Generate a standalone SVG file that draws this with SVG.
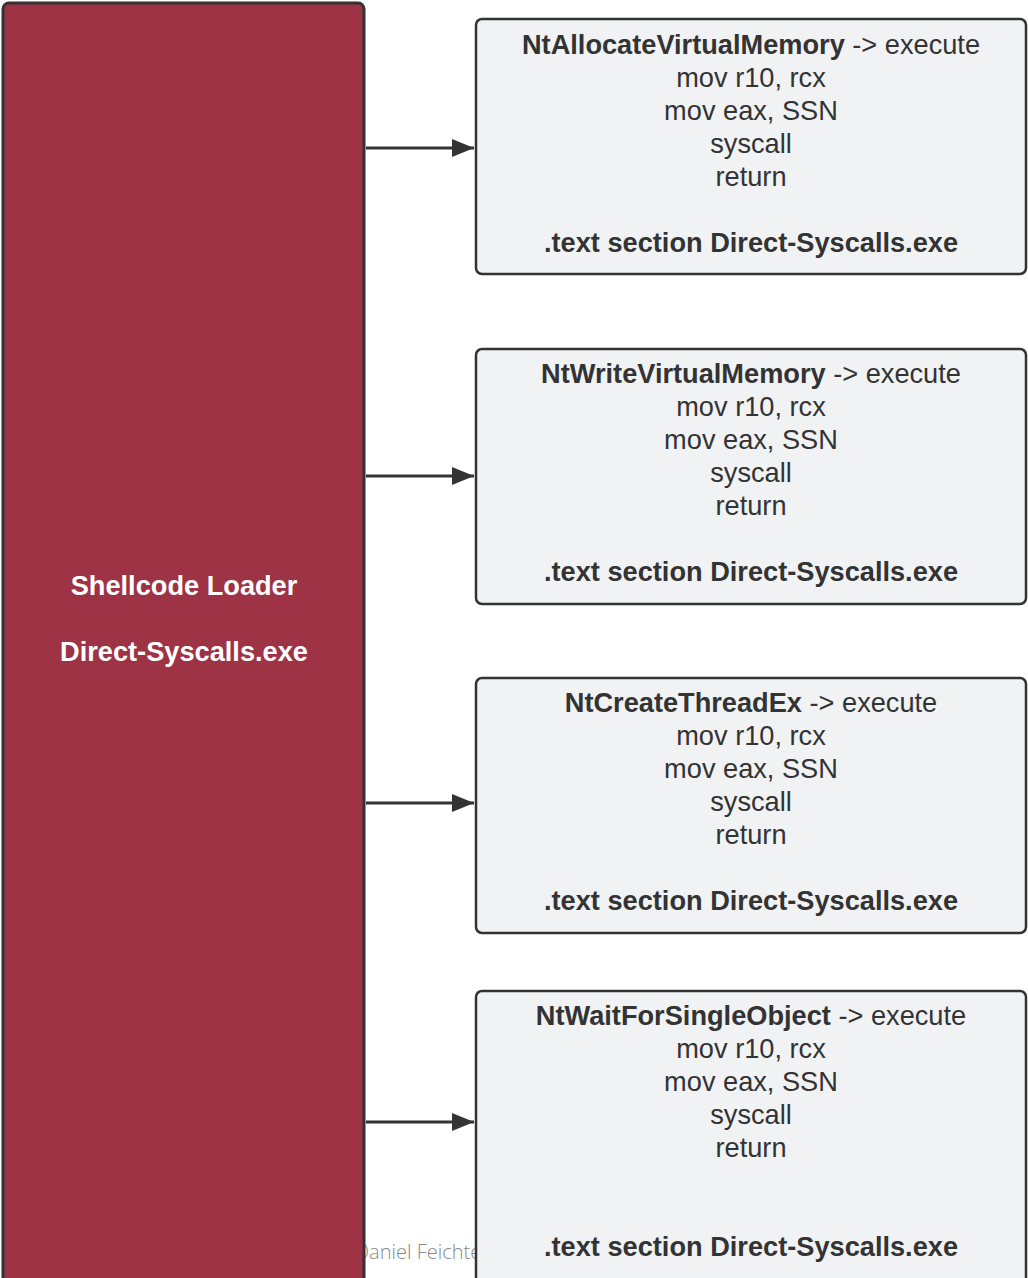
<svg xmlns="http://www.w3.org/2000/svg" width="1028" height="1278" viewBox="0 0 1028 1278">
  <defs>
    <marker id="arrow" viewBox="0 0 22 18" refX="22" refY="9" markerWidth="22" markerHeight="18" markerUnits="userSpaceOnUse" orient="auto">
      <path d="M0,0 L22,9 L0,18 Z" fill="#333333"/>
    </marker>
    <style>
      .loader { fill: #9e3346; stroke: #333333; stroke-width: 3; }
      .stub { fill: #f1f2f4; stroke: #333333; stroke-width: 2.5; }
      .t { font-family: "Liberation Sans", Arial, sans-serif; font-size: 27.2px; fill: #333333; text-anchor: middle; }
      .w { font-family: "Liberation Sans", Arial, sans-serif; font-size: 27.2px; font-weight: bold; fill: #ffffff; text-anchor: middle; }
      .b { font-weight: bold; }
      .edge { stroke: #333333; stroke-width: 3; fill: none; marker-end: url(#arrow); }
      .mark { font-family: "Open Sans", sans-serif; font-weight: 300; font-size: 20px; fill: #8a8a8a; }
    </style>
  </defs>
  <rect width="1028" height="1278" fill="#ffffff"/>

  <text class="mark" x="355" y="1259">Daniel Feichter</text>

  <g id="shellcode-loader">
    <rect class="loader" x="3" y="3" width="361" height="1300" rx="6"/>
    <text class="w" x="184" y="595">Shellcode Loader</text>
    <text class="w" x="184" y="661">Direct-Syscalls.exe</text>
  </g>

  <g id="connectors">
    <line class="edge" x1="366" y1="148" x2="474" y2="148"/>
    <line class="edge" x1="366" y1="476" x2="474" y2="476"/>
    <line class="edge" x1="366" y1="803" x2="474" y2="803"/>
    <line class="edge" x1="366" y1="1122" x2="474" y2="1122"/>
  </g>

  <g id="nt-allocate-virtual-memory">
    <rect class="stub" x="476" y="19" width="550" height="255" rx="6"/>
    <text class="t" x="751" y="54"><tspan class="b">NtAllocateVirtualMemory</tspan> -&gt; execute</text>
    <text class="t" x="751" y="87">mov r10, rcx</text>
    <text class="t" x="751" y="120">mov eax, SSN</text>
    <text class="t" x="751" y="153">syscall</text>
    <text class="t" x="751" y="186">return</text>
    <text class="t b" x="751" y="252">.text section Direct-Syscalls.exe</text>
  </g>

  <g id="nt-write-virtual-memory">
    <rect class="stub" x="476" y="349" width="550" height="255" rx="6"/>
    <text class="t" x="751" y="383"><tspan class="b">NtWriteVirtualMemory</tspan> -&gt; execute</text>
    <text class="t" x="751" y="416">mov r10, rcx</text>
    <text class="t" x="751" y="449">mov eax, SSN</text>
    <text class="t" x="751" y="482">syscall</text>
    <text class="t" x="751" y="515">return</text>
    <text class="t b" x="751" y="581">.text section Direct-Syscalls.exe</text>
  </g>

  <g id="nt-create-thread-ex">
    <rect class="stub" x="476" y="678" width="550" height="255" rx="6"/>
    <text class="t" x="751" y="712"><tspan class="b">NtCreateThreadEx</tspan> -&gt; execute</text>
    <text class="t" x="751" y="745">mov r10, rcx</text>
    <text class="t" x="751" y="778">mov eax, SSN</text>
    <text class="t" x="751" y="811">syscall</text>
    <text class="t" x="751" y="844">return</text>
    <text class="t b" x="751" y="910">.text section Direct-Syscalls.exe</text>
  </g>

  <g id="nt-wait-for-single-object">
    <rect class="stub" x="476" y="991" width="550" height="310" rx="6"/>
    <text class="t" x="751" y="1025"><tspan class="b">NtWaitForSingleObject</tspan> -&gt; execute</text>
    <text class="t" x="751" y="1058">mov r10, rcx</text>
    <text class="t" x="751" y="1091">mov eax, SSN</text>
    <text class="t" x="751" y="1124">syscall</text>
    <text class="t" x="751" y="1157">return</text>
    <text class="t b" x="751" y="1256">.text section Direct-Syscalls.exe</text>
  </g>
</svg>
